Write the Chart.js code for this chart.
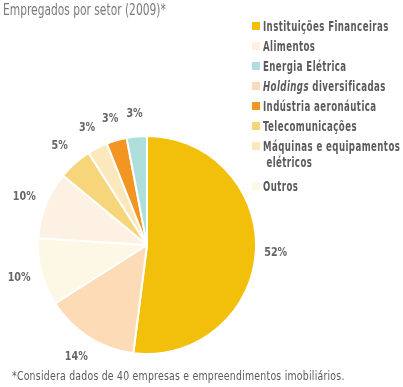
<!DOCTYPE html>
<html>
<head>
<meta charset="utf-8">
<script src="https://cdn.jsdelivr.net/npm/chart.js@4.4.0/dist/chart.umd.min.js"></script>
<style>
  html, body { margin: 0; padding: 0; background: #fff; }
  body { width: 403px; height: 387px; position: relative; overflow: hidden;
         font-family: "DejaVu Sans Condensed", "DejaVu Sans", sans-serif; font-stretch: condensed; color: #5a5a5a; }
  #wrap { position: absolute; left: 0; top: 0; width: 403px; height: 387px; }
  .fit { display: inline-block; transform-origin: 0 50%; white-space: nowrap; }
  #title { position: absolute; left: 3px; top: 1px; font-size: 15px; color: #7a7a7a; }
  #legend { position: absolute; left: 252px; top: 18px; font-size: 13.5px; font-weight: bold; letter-spacing: 0.6px; }
  #legend .row { position: relative; height: 20px; line-height: 16px; padding-left: 11px; white-space: nowrap; }
  #legend .box { position: absolute; left: 0; top: 4px; width: 8px; height: 8px; }
  #note { position: absolute; left: 12px; top: 368px; font-size: 13px; color: #5a5a5a; letter-spacing: 0.3px; }
</style>
</head>
<body>
<div id="wrap"><canvas id="mycanvas" width="403" height="387"></canvas></div>
<div id="title"><span class="fit" id="titleText">Empregados por setor (2009)*</span></div>
<div id="legend"></div>
<div id="note"><span class="fit" id="noteText">*Considera dados de 40 empresas e empreendimentos imobiliários.</span></div>
<script>
// slices, clockwise from the top
var sectors = ['Instituições Financeiras', 'Holdings diversificadas', 'Outros', 'Alimentos',
               'Telecomunicações', 'Máquinas e equipamentos elétricos', 'Indústria aeronáutica', 'Energia Elétrica'];
var shares = [52, 14, 10, 10, 5, 3, 3, 3];
var colors = ['#F2C00A', '#FDDBB6', '#FDF7E6', '#FDF1E3', '#F6D57B', '#FBE8BD', '#F29522', '#AFDFDC'];

// legend order as printed
var legendOrder = [0, 3, 7, 1, 6, 4, 5, 2];
var legendHtml = {
    1: '<i>Holdings</i> diversificadas',
    5: 'Máquinas e equipamentos<br>&nbsp;elétricos'
};

// squeeze text to the narrow width of the printed font
function fitTo(el, w) {
    el.style.transform = 'scaleX(' + (w / el.offsetWidth) + ')';
}

var legend = document.getElementById('legend');
var spans = [];
legendOrder.forEach(function(i) {
    var row = document.createElement('div');
    row.className = 'row';
    if (i === 5) row.style.height = '40px';
    row.innerHTML = '<span class="box" style="background:' + colors[i] + '"></span>' +
        '<span class="fit">' + (legendHtml[i] || sectors[i]) + '</span>';
    legend.appendChild(row);
    spans.push(row.querySelector('.fit'));
});
var k = 126 / spans[0].offsetWidth;
spans.forEach(function(s) { s.style.transform = 'scaleX(' + k + ')'; });
fitTo(document.getElementById('titleText'), 163);
fitTo(document.getElementById('noteText'), 333);

// percentage labels outside the slices
var outsideLabels = {
    id: 'outsideLabels',
    afterDatasetsDraw: function(chart) {
        var ctx = chart.ctx;
        var meta = chart.getDatasetMeta(0);
        ctx.save();
        ctx.font = 'bold 13px "DejaVu Sans Condensed", "DejaVu Sans", sans-serif';
        ctx.fillStyle = '#666';
        ctx.textAlign = 'center';
        ctx.textBaseline = 'middle';
        var sx = 23 / ctx.measureText('52%').width;
        meta.data.forEach(function(arc, i) {
            var mid = (arc.startAngle + arc.endAngle) / 2;
            var r = arc.outerRadius + (shares[i] > 20 ? 20 : 23);
            var x = arc.x + Math.cos(mid) * r;
            var y = arc.y + Math.sin(mid) * r;
            ctx.save();
            ctx.translate(x, y);
            ctx.scale(sx, 1);
            ctx.fillText(shares[i] + '%', 0, 0);
            ctx.restore();
        });
        ctx.restore();
    }
};

var ctx1 = document.getElementById('mycanvas');
var chart1 = new Chart(ctx1, {
    type: 'pie',
    data: {
        labels: sectors,
        datasets: [{
            data: shares,
            backgroundColor: colors,
            borderColor: '#fff',
            borderWidth: 2
        }]
    },
    options: {
        responsive: false,
        animation: false,
        layout: { padding: { left: 37, right: 146, top: 135, bottom: 32 } },
        plugins: {
            legend: { display: false },
            tooltip: { enabled: false }
        }
    },
    plugins: [outsideLabels]
});
</script>
</body>
</html>
